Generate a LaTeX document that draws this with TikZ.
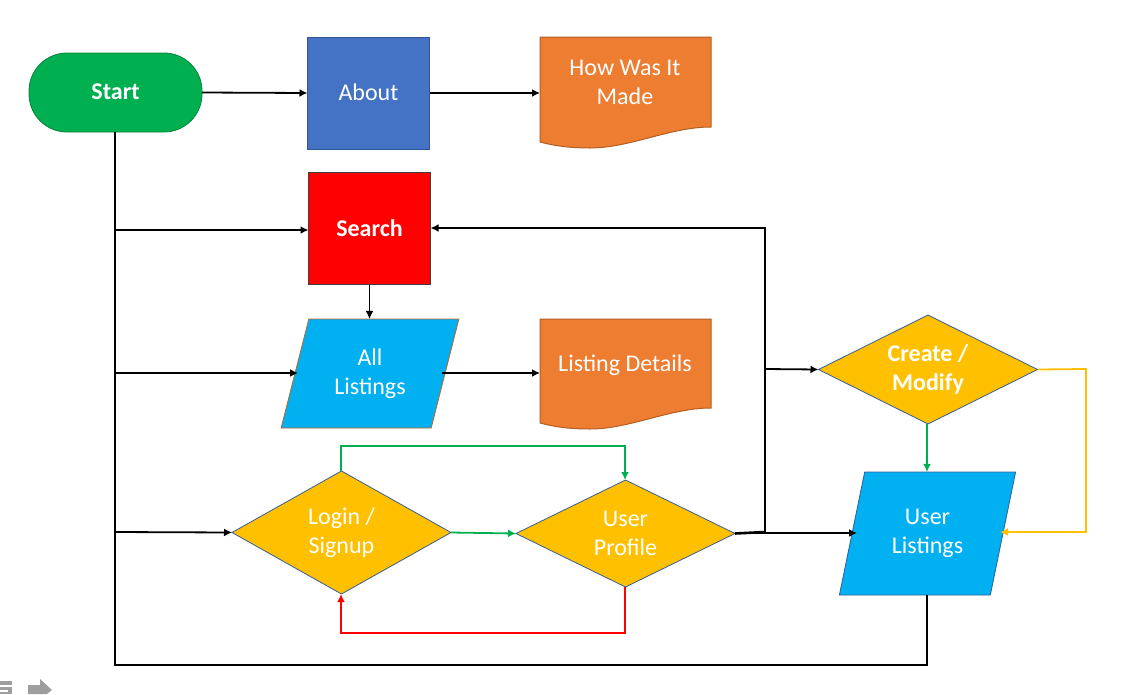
\documentclass[tikz,border=0pt]{standalone}
\usepackage{fontspec}
\setmainfont{Carlito}
\usetikzlibrary{shapes.geometric,arrows.meta}
\definecolor{flowgreen}{HTML}{00B050}
\definecolor{flowblue}{HTML}{4472C4}
\definecolor{floworange}{HTML}{ED7D31}
\definecolor{flowcyan}{HTML}{00B0F0}
\definecolor{flowyellow}{HTML}{FFC000}
\tikzset{
    boxtext/.style={text=white, font=\fontsize{24}{29}\selectfont, align=center, inner sep=0pt, outer sep=0pt},
    docbox/.style={minimum width=171pt, minimum height=112pt, inner sep=0pt, outer sep=0pt},
    docfill/.style={fill=floworange, draw=floworange!75!black, line width=1pt},
    decision/.style={boxtext, diamond, aspect=2, fill=flowyellow, draw=flowblue!80!black, line width=0.8pt, minimum width=219pt},
    listing/.style={boxtext, trapezium, trapezium stretches=true, fill=flowcyan, line width=0.8pt},
    link/.style={line width=1.8pt, -{Latex[length=8pt,width=8pt]}},
    plainlink/.style={line width=1.8pt}
}
\begin{document}
\begin{tikzpicture}[x=1pt, y=-1pt]
                \useasboundingbox (0,0) rectangle (1128,694);

                \node[boxtext, font=\fontsize{24}{29}\selectfont\bfseries, fill=flowgreen, draw=flowgreen!75!black, line width=0.8pt, rounded corners=38pt, minimum width=173pt, minimum height=79pt] (start) at (115.5,92.5) {\raisebox{1pt}{Start}};
                \node[boxtext, fill=flowblue, draw=flowblue!75!black, line width=0.8pt, minimum width=122pt, minimum height=112pt] (about) at (368.5,93) {\raisebox{1pt}{About}};
                \node[boxtext, font=\fontsize{24}{29}\selectfont\bfseries, fill=red, draw=black!75, line width=0.8pt, minimum width=122pt, minimum height=112pt] (search) at (369.5,228.5) {\raisebox{1pt}{Search}};

                \node[docbox] (howmade) at (625.5,93) {};
                \filldraw[docfill] (howmade.north west) -- (howmade.north east) -- (711,127) .. controls (670,127) and (630,148) .. (590,148) .. controls (570,148) and (555,146) .. (540,142) -- cycle;
                \node[boxtext] (howlabel) at (625,82) {How Was It\\Made};

                \node[docbox] (details) at (625.5,373) {};
                \filldraw[docfill] (540,319) -- (711,319) -- (711,408) .. controls (670,408) and (630,429) .. (590,429) .. controls (570,429) and (555,427) .. (540,423) -- cycle;
                \node[boxtext] (detailslabel) at (625,365) {Listing Details};

                \node[listing, draw=floworange!80!black, trapezium left angle=72, trapezium right angle=108, minimum width=178pt, minimum height=109pt] (alllist) at (370,373.5) {All\\Listings};
                \node[listing, draw=flowblue!80!black, trapezium left angle=73.5, trapezium right angle=106.5, minimum width=178pt, minimum height=123pt] (userlist) at (927.5,533.5) {User\\Listings};

                \node[decision, minimum height=123pt] (login) at (341.5,532.5) {Login /\\Signup};
                \node[decision, minimum height=107pt] (profile) at (625.5,533.5) {User\\Profile};
                \node[decision, font=\fontsize{24}{29}\selectfont\bfseries, minimum height=109pt] (create) at (928,369.5) {Create /\\Modify};

                \coordinate (startturn) at (115,665);
                \coordinate (userturn) at (927,665);
                \coordinate (searchbranch) at (115,230);
                \coordinate (listbranch) at (115,373);
                \coordinate (listin) at (298,373);
                \coordinate (listout) at (442,373);
                \coordinate (loginbranch) at (115,532);
                \coordinate (profilejoin) at (765,532);
                \coordinate (searchturn) at (765,228);
                \coordinate (createbranch) at (765,369);
                \coordinate (createturn) at (1086,369);
                \coordinate (userin) at (1086,532);
                \coordinate (userright) at (1000,532);
                \coordinate (userleft) at (857,533);
                \coordinate (loginup) at (341,446);
                \coordinate (profileup) at (625,446);
                \coordinate (profiledown) at (625,633);
                \coordinate (logindown) at (341,633);

                \draw[link] (start.east) -- (about.west);
                \draw[link] (about.east) -- (about.east -| howmade.west);
                \draw[plainlink] (userlist.south -| userturn) -- (userturn) -- (startturn) -- (start.south -| startturn);
                \draw[link] (searchbranch) -- (search.west |- searchbranch);
                \draw[link] (listbranch) -- (listin);
                \draw[link] (loginbranch) -- (login.west);
                \draw[link] (search.south) -- (search.south |- alllist.north);
                \draw[link] (listout) -- (details.west);

                \draw[link, flowgreen] (login.east) -- (profile.west);
                \draw[link, flowgreen] (login.north -| loginup) -- (loginup) -- (profileup) -- (profile.north -| profileup);
                \draw[link, red] (profile.south -| profiledown) -- (profiledown) -- (logindown) -- (login.south -| logindown);

                \draw[line width=2.6pt] (profile.east) -- (profilejoin);
                \draw[link, line width=2pt] (profilejoin) -- (searchturn) -- (search.east |- searchturn);
                \draw[link] (createbranch) -- (create.west);
                \draw[link] (profile.east |- userleft) -- (userleft);

                \draw[link, flowgreen] (create.south -| userturn) -- (userlist.north -| userturn);
                \draw[link, flowyellow] (create.east) -- (createturn) -- (userin) -- (userright);

                \fill[black!38] (0,681) rectangle (12,694);
                \draw[white, line width=1.2pt] (0,686) -- (12,686) (0,691) -- (8,691);
                \fill[black!38] (28,685) -- (40,685) -- (40,679) -- (52,690) -- (47,694) -- (28,694) -- cycle;
            \end{tikzpicture}
\end{document}
